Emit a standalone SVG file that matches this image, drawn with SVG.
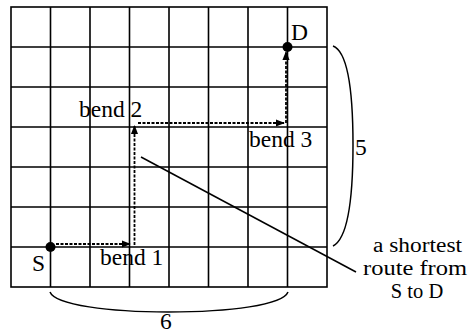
<svg xmlns="http://www.w3.org/2000/svg" width="471" height="334" viewBox="0 0 471 334">
<defs>
<style>
.grid{stroke:#000;stroke-width:1.6;fill:none}
.route{stroke:#000;stroke-width:1.8;fill:none;stroke-dasharray:3 1.5}
.lbl{font-family:"Liberation Serif","Times New Roman",serif;font-size:23.5px;fill:#000}
.cap{font-family:"Liberation Serif","Times New Roman",serif;font-size:20.5px;fill:#000}
.brace{stroke:#000;stroke-width:1.5;fill:none}
</style>
<marker id="ah" viewBox="0 0 10 10" refX="9" refY="5" markerWidth="5" markerHeight="5" orient="auto" markerUnits="strokeWidth">
<path d="M0,1 L10,5 L0,9 Z" fill="#000"/>
</marker>
</defs>
<rect width="471" height="334" fill="#fff"/>
<g id="grid" class="grid">
<rect x="11" y="7" width="316" height="280"/>
<path d="M50.5,7V287M90,7V287M129.5,7V287M169,7V287M208.5,7V287M248,7V287M287.5,7V287"/>
<path d="M11,47H327M11,87H327M11,127H327M11,167H327M11,207H327M11,247H327"/>
</g>
<g id="connectors">
<path class="route" d="M56,244H130" marker-end="url(#ah)"/>
<path class="route" d="M134.5,245V126" marker-end="url(#ah)"/>
<path class="route" d="M138,123H284" marker-end="url(#ah)"/>
<path class="route" d="M286,123V52" marker-end="url(#ah)"/>
<path d="M141,157L356,272" stroke="#000" stroke-width="1.5"/>
<path class="brace" d="M333,46C349,52 353,100 353,145C353,195 349,238 333,246"/>
<path class="brace" d="M50,292C55,305 110,312 168,312C230,312 283,305 288,292"/>
</g>
<g id="S">
<circle cx="50.5" cy="247" r="5" fill="#000"/>
<text class="lbl" x="32" y="271">S</text>
</g>
<g id="D">
<circle cx="287.5" cy="47" r="5" fill="#000"/>
<text class="lbl" x="291" y="40">D</text>
</g>
<g id="bend1"><text class="lbl" x="100" y="265">bend 1</text></g>
<g id="bend2"><text class="lbl" x="79" y="117">bend 2</text></g>
<g id="bend3"><text class="lbl" x="249" y="147">bend 3</text></g>
<g id="label5"><text class="lbl" x="355" y="155">5</text></g>
<g id="label6"><text class="lbl" x="160" y="329">6</text></g>
<g id="caption">
<text class="cap" x="373" y="252" textLength="89" lengthAdjust="spacingAndGlyphs">a shortest</text>
<text class="cap" x="363" y="275" textLength="104" lengthAdjust="spacingAndGlyphs">route from</text>
<text class="cap" x="417" y="298" text-anchor="middle">S to D</text>
</g>
</svg>
